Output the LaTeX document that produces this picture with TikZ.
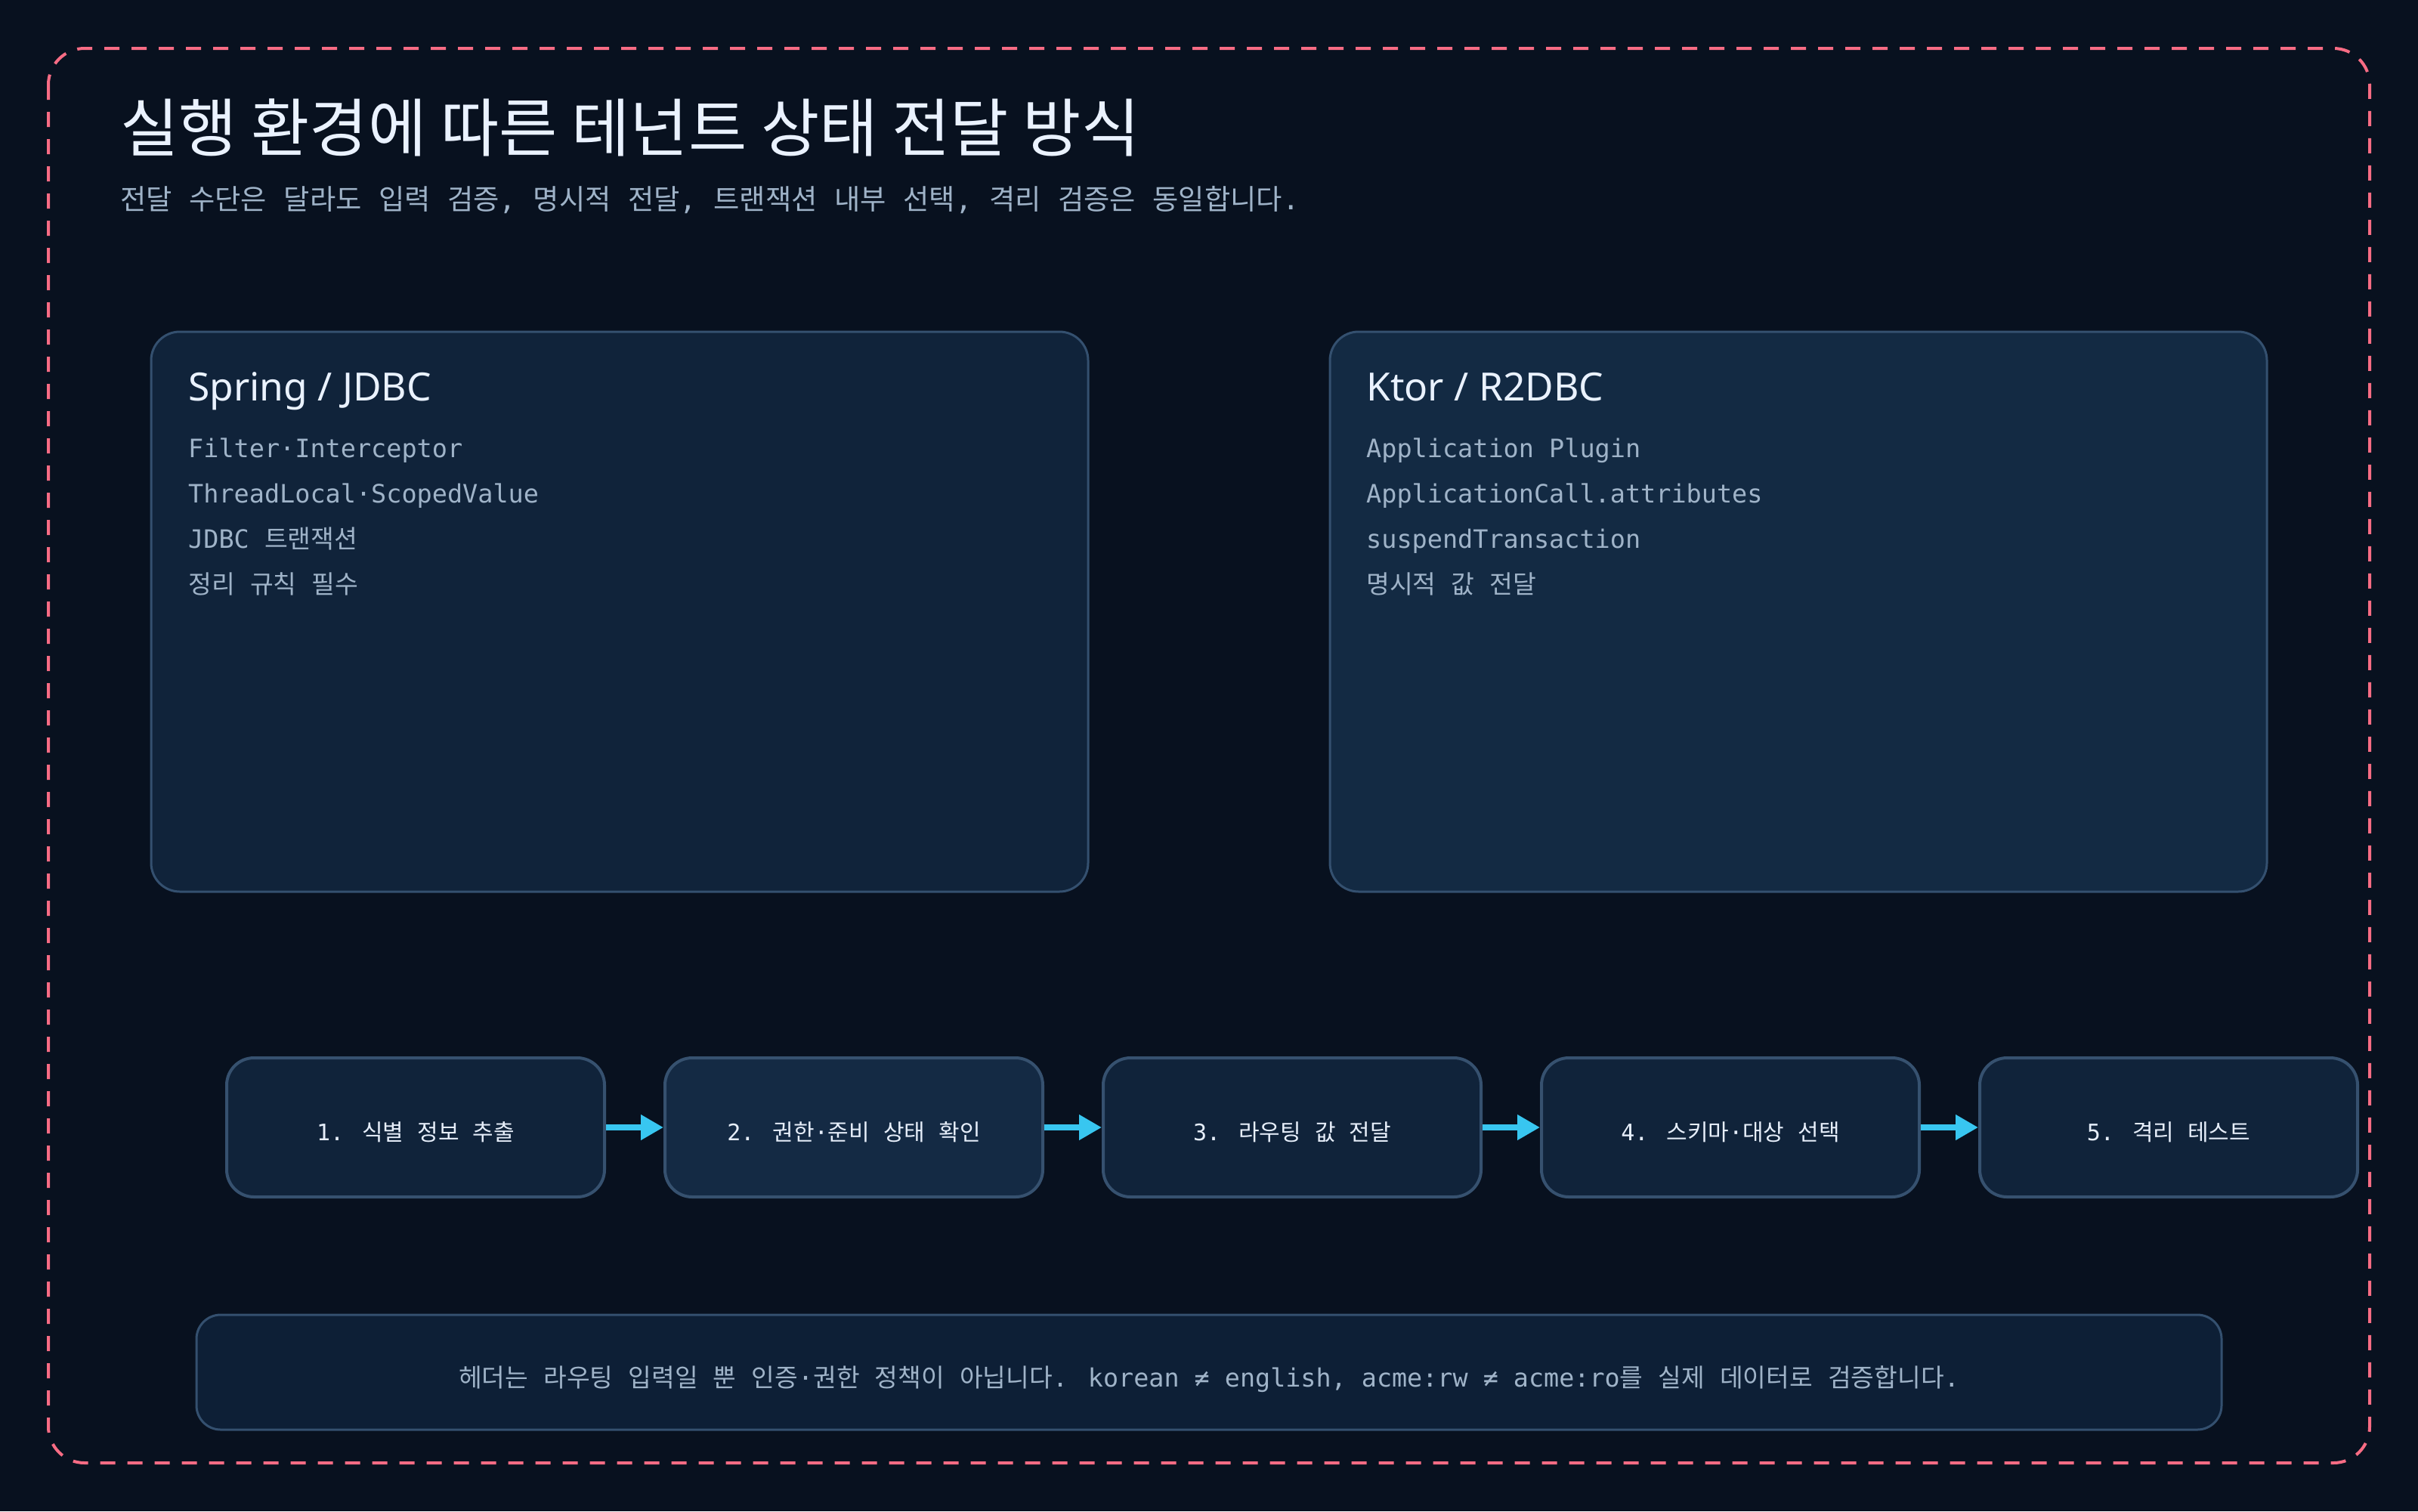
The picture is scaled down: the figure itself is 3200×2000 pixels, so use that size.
\documentclass[tikz,border=0pt]{standalone}
\usepackage{fontspec}
\usetikzlibrary{arrows.meta}
\newfontfamily\krsans{Noto Sans CJK KR}
\newfontfamily\monof{DejaVu Sans Mono}
\newfontfamily\latsans{Noto Sans}
\let\latinfont\relax
% automatic switch: Hangul syllables in Noto Sans CJK KR, the rest in \latinfont
\newcount\hgc
\newXeTeXintercharclass\krclass
\hgc="AC00
\loop \XeTeXcharclass\hgc=\krclass \advance\hgc by 1 \ifnum\hgc<"D7A4 \repeat
\XeTeXinterchartoks 0 \krclass = {\krsans}
\XeTeXinterchartoks 4095 \krclass = {\krsans}
\XeTeXinterchartoks \krclass 0 = {\latinfont}
\XeTeXinterchartoks \krclass 4095 = {\latinfont}
\XeTeXinterchartokenstate=1

\definecolor{bgc}{HTML}{08111F}
\definecolor{framec}{HTML}{F76C84}
\definecolor{cardborder}{HTML}{34506F}
\definecolor{cardA}{HTML}{10233A}
\definecolor{cardB}{HTML}{132A43}
\definecolor{titlec}{HTML}{EAF2FF}
\definecolor{subc}{HTML}{9FB3C8}
\definecolor{stepborder}{HTML}{36516F}
\definecolor{stepA}{HTML}{10233A}
\definecolor{stepB}{HTML}{142A44}
\definecolor{stepc}{HTML}{E6EEFA}
\definecolor{notefill}{HTML}{0D1F36}
\definecolor{arrowc}{HTML}{38C6F0}

\begin{document}
\begin{tikzpicture}[x=1pt,y=-1pt,
  frame/.style={draw=framec, line width=4pt, dash pattern=on 20pt off 16pt, rounded corners=48pt},
  titletext/.style={inner sep=0pt, text=titlec, font={\krsans\let\latinfont\krsans\fontsize{84}{96}\selectfont}},
  subtext/.style={inner sep=0pt, text=subc, font={\monof\let\latinfont\monof\fontsize{37.3}{44}\selectfont}},
  card/.style={draw=cardborder, line width=3pt, rounded corners=38pt, inner sep=0pt},
  cardtitle/.style={inner sep=0pt, anchor=base west, text=titlec, font={\latsans\let\latinfont\latsans\fontsize{51.5}{60}\selectfont}},
  cardline/.style={inner sep=0pt, anchor=base west, text=subc, font={\monof\let\latinfont\monof\fontsize{33.5}{40}\selectfont}},
  stepbox/.style={draw=stepborder, line width=4pt, rounded corners=36pt, minimum width=500pt, minimum height=184pt, inner sep=0pt, text height=36pt, text depth=2pt, text=stepc, font={\monof\let\latinfont\monof\fontsize{30}{36}\selectfont}},
  notebox/.style={draw=cardborder, fill=notefill, line width=3pt, rounded corners=32pt, minimum width=2680pt, minimum height=152pt, inner sep=0pt, text height=40pt, text depth=2pt, text=subc, font={\monof\let\latinfont\monof\fontsize{33.4}{40}\selectfont}},
  flow/.style={draw=arrowc, line width=8pt, -{Triangle[length=30pt,width=32pt]}}
]
\fill[bgc] (0,0) rectangle (3200,2000);
\useasboundingbox (0,0) rectangle (3200,2000);

\draw[frame] (64,64) rectangle (3136,1936);

\node[titletext, anchor=west] (title) at (159,169) {실행 환경에 따른 테넌트 상태 전달 방식};
\node[subtext, anchor=west] (sub) at (159,265) {전달 수단은 달라도 입력 검증, 명시적 전달, 트랜잭션 내부 선택, 격리 검증은 동일합니다.};

% cards
\node[card, fill=cardA, minimum width=1240pt, minimum height=741pt] (spring) at (820,809.5) {};
\node[cardtitle] (springT) at (249,530) {Spring / JDBC};
\node[cardline] (sp1) at (249,605) {Filter·Interceptor};
\node[cardline] (sp2) at (249,665) {ThreadLocal·ScopedValue};
\node[cardline] (sp3) at (249,725) {JDBC 트랜잭션};
\node[cardline] (sp4) at (249,785) {정리 규칙 필수};

\node[card, fill=cardB, minimum width=1240pt, minimum height=741pt] (ktor) at (2380,809.5) {};
\node[cardtitle] (ktorT) at (1808,530) {Ktor / R2DBC};
\node[cardline] (kt1) at (1808,605) {Application Plugin};
\node[cardline] (kt2) at (1808,665) {ApplicationCall.attributes};
\node[cardline] (kt3) at (1808,725) {suspendTransaction};
\node[cardline] (kt4) at (1808,785) {명시적 값 전달};

% steps
\node[stepbox, fill=stepA] (p1) at (550,1492) {1. 식별 정보 추출};
\node[stepbox, fill=stepB] (p2) at (1130,1492) {2. 권한·준비 상태 확인};
\node[stepbox, fill=stepA] (p3) at (1710,1492) {3. 라우팅 값 전달};
\node[stepbox, fill=stepA] (p4) at (2290,1492) {4. 스키마·대상 선택};
\node[stepbox, fill=stepA] (p5) at (2870,1492) {5. 격리 테스트};

\draw[flow] (p1.east) -- (p2.west);
\draw[flow] (p2.east) -- (p3.west);
\draw[flow] (p3.east) -- (p4.west);
\draw[flow] (p4.east) -- (p5.west);

% note
\node[notebox] (note) at (1600,1816) {헤더는 라우팅 입력일 뿐 인증·권한 정책이 아닙니다. korean ≠ english, acme:rw ≠ acme:ro를 실제 데이터로 검증합니다.};
\end{tikzpicture}
\end{document}
